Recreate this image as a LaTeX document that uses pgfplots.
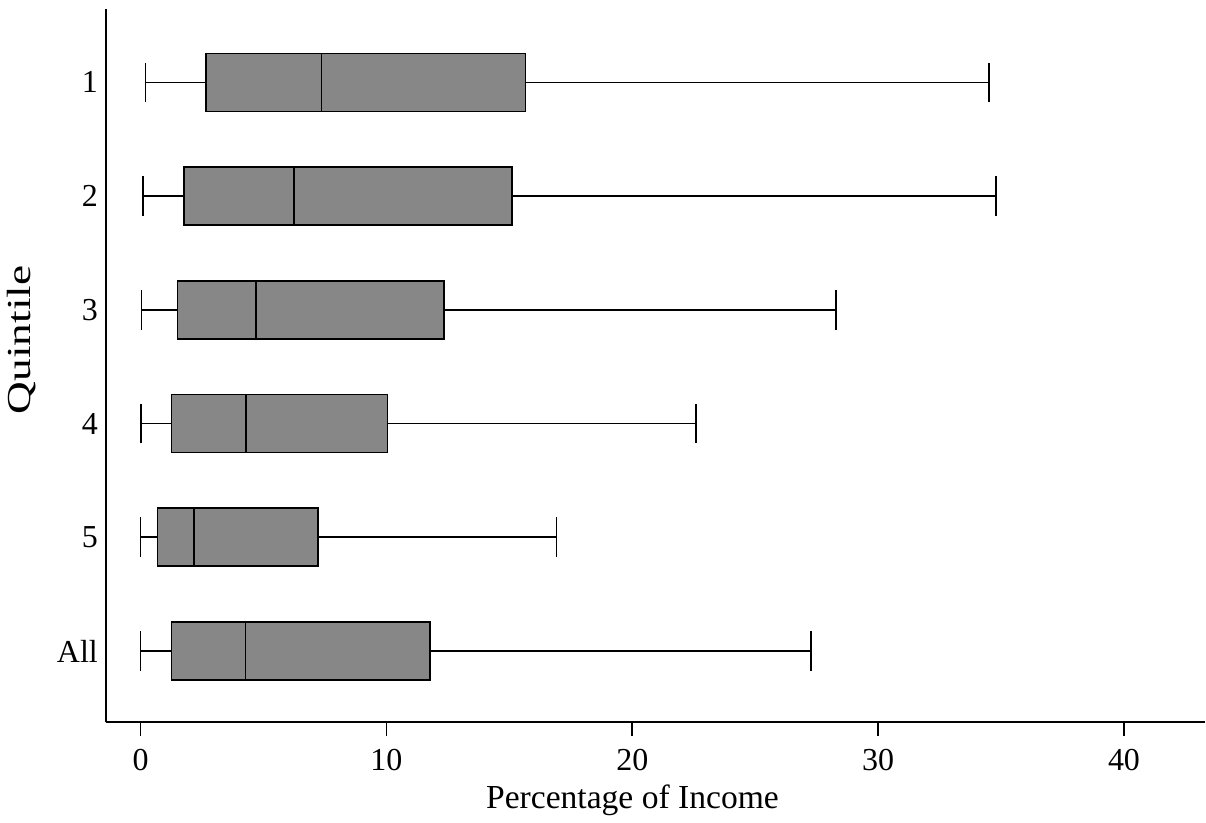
\documentclass[border=0pt]{standalone}
\usepackage{fontspec}
\setmainfont{Liberation Serif}
\usepackage{pgfplots}
\pgfplotsset{compat=1.18}
\usepgfplotslibrary{statistics}
\definecolor{boxgray}{gray}{0.53}
\begin{document}
\begin{tikzpicture}
\begin{axis}[name=ax, scale only axis, width=550pt, height=356.85pt,
  xmin=-1.41, xmax=43.3, ymin=-0.626, ymax=5.646,
  axis x line*=bottom, axis y line*=left,
  axis line style={line width=0.9pt, black},
  xtick={0,10,20,30,40}, ytick={0,1,2,3,4,5}, yticklabels={All,5,4,3,2,1},
  tick align=outside, major tick length=7pt,
  x tick style={line width=0.9pt, black}, y tick style={draw=none},
  /pgf/number format/assume math mode=true,
  tick label style={font=\fontsize{16}{19}\selectfont},
  xticklabel style={yshift=-3pt},
  yticklabel style={xshift=6.5pt},
  label style={font=\fontsize{16.8}{20}\selectfont},
  xlabel={Percentage of Income}, ylabel={Quintile},
  xlabel style={at={(axis description cs:0.479,0)}, anchor=base, yshift=-43pt},
  ylabel style={at={(axis description cs:-0.0764,0.536)}, anchor=center, xscale=1.35},
  boxplot/draw direction=x,
  boxplot/box extend=0.51, boxplot/whisker extend=0.35,
]
\addplot[draw=black, line width=0.9pt, fill=boxgray, boxplot prepared={lower whisker=0.2, lower quartile=2.65, median=7.36, upper quartile=15.66, upper whisker=34.52, draw position=5}] coordinates {};
\addplot[draw=black, line width=0.9pt, fill=boxgray, boxplot prepared={lower whisker=0.1, lower quartile=1.76, median=6.23, upper quartile=15.1, upper whisker=34.81, draw position=4}] coordinates {};
\addplot[draw=black, line width=0.9pt, fill=boxgray, boxplot prepared={lower whisker=0.04, lower quartile=1.5, median=4.7, upper quartile=12.34, upper whisker=28.29, draw position=3}] coordinates {};
\addplot[draw=black, line width=0.9pt, fill=boxgray, boxplot prepared={lower whisker=0.01, lower quartile=1.26, median=4.3, upper quartile=10.04, upper whisker=22.6, draw position=2}] coordinates {};
\addplot[draw=black, line width=0.9pt, fill=boxgray, boxplot prepared={lower whisker=0, lower quartile=0.69, median=2.18, upper quartile=7.22, upper whisker=16.92, draw position=1}] coordinates {};
\addplot[draw=black, line width=0.9pt, fill=boxgray, boxplot prepared={lower whisker=0, lower quartile=1.26, median=4.27, upper quartile=11.76, upper whisker=27.28, draw position=0}] coordinates {};
\end{axis}
\path ([xshift=-53pt,yshift=-49.15pt]ax.south west) rectangle ([yshift=4.5pt]ax.north east);
\end{tikzpicture}
\end{document}
